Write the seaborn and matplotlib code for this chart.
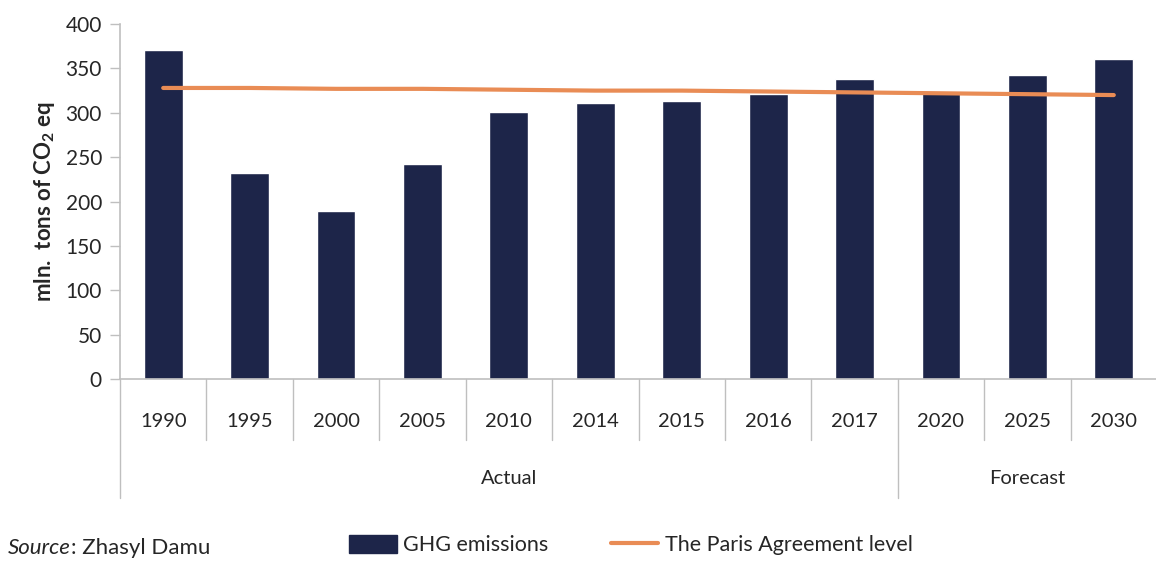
import matplotlib
matplotlib.use("Agg")
import matplotlib.pyplot as plt
import matplotlib.transforms as mtransforms
from matplotlib.patches import Patch
from matplotlib.lines import Line2D
import seaborn as sns

years = ["1990", "1995", "2000", "2005", "2010", "2014", "2015", "2016", "2017", "2020", "2025", "2030"]
ghg = [371, 232, 189, 242, 301, 311, 313, 321, 338, 325, 343, 361]
paris = [328, 328, 327, 327, 326, 325, 325, 324, 323, 322, 321, 320]
groups = ["Actual"] * 9 + ["Forecast"] * 3
yticks = [0, 50, 100, 150, 200, 250, 300, 350, 400]

BAR = "#1d2549"
LINE = "#e98c55"
GRID = "#bfbfbf"
TXT = "#262626"

sns.set_theme(style="white")
plt.rcParams["font.family"] = ["Lato", "DejaVu Sans"]
plt.rcParams["mathtext.fontset"] = "custom"
plt.rcParams["mathtext.rm"] = "Lato"
plt.rcParams["mathtext.bf"] = "Lato:bold"

fig = plt.figure(figsize=(11.56, 5.68), dpi=100)
ax = fig.add_axes([120 / 1156, 188.7 / 568, 1037 / 1156, 355.3 / 568])

sns.barplot(x=years, y=ghg, color=BAR, width=0.45, saturation=1, ax=ax)
sns.pointplot(x=years, y=paris, color=LINE, markers="", linestyles="-",
              errorbar=None, ax=ax, lw=3)
for ln in ax.lines:
    ln.set_linewidth(3)

ax.set_xlim(-0.5, len(years) - 0.5)
ax.set_ylim(0, 400)
ax.set_yticks(yticks)
ax.set_yticklabels([str(v) for v in yticks], fontsize=15, color=TXT)
ax.tick_params(axis="y", length=7, width=1, color=GRID, pad=6, left=True)
ax.tick_params(axis="x", length=0, pad=24, labelsize=14.5, labelcolor=TXT)
ax.set_xticks(range(len(years)))
ax.set_xticklabels(years)

for s in ["top", "right"]:
    ax.spines[s].set_visible(False)
for s in ["left", "bottom"]:
    ax.spines[s].set_color(GRID)
    ax.spines[s].set_linewidth(1.2)

ax.set_ylabel("mln.  tons of CO$_\\mathbf{2}$ eq", fontsize=16, fontweight="bold",
              color=TXT, labelpad=6)
ax.set_xlabel("")

trans = mtransforms.blended_transform_factory(ax.transData, ax.transAxes)
# category separators
for i in range(1, len(years)):
    deep = groups[i] != groups[i - 1]
    ax.plot([i - 0.5, i - 0.5], [0, -0.334 if deep else -0.171], transform=trans,
            color=GRID, lw=1, clip_on=False)
ax.plot([-0.5, -0.5], [0, -0.334], transform=trans, color=GRID, lw=1, clip_on=False)
ax.plot([len(years) - 0.5] * 2, [0, -0.334], transform=trans, color=GRID, lw=1, clip_on=False)

# group labels
for g in ["Actual", "Forecast"]:
    idx = [i for i, gg in enumerate(groups) if gg == g]
    xc = (idx[0] + idx[-1]) / 2
    ax.text(xc, -0.28, g, transform=trans, ha="center", va="center",
            fontsize=14.5, color=TXT)

# source and legend
t_src = fig.text(8 / 1156, 1 - 548 / 568, "Source", style="italic", fontsize=16,
                 color=TXT, va="center", ha="left")
ax.annotate(": Zhasyl Damu", xy=(1, 0.5), xycoords=t_src, xytext=(0, 0),
            textcoords="offset points", fontsize=16, color=TXT,
            va="center", ha="left", annotation_clip=False)

handles = [Patch(facecolor=BAR, edgecolor=BAR),
           Line2D([0], [0], color=LINE, lw=3)]
fig.legend(handles, ["GHG emissions", "The Paris Agreement level"],
           loc="center left", bbox_to_anchor=(330 / 1156, 1 - 545 / 568),
           ncol=2, frameon=False, fontsize=15.5, handlelength=2.2,
           handleheight=0.9, handletextpad=0.3, columnspacing=2.9,
           labelcolor=TXT)

fig.savefig("out.png", dpi=100, facecolor="white")
